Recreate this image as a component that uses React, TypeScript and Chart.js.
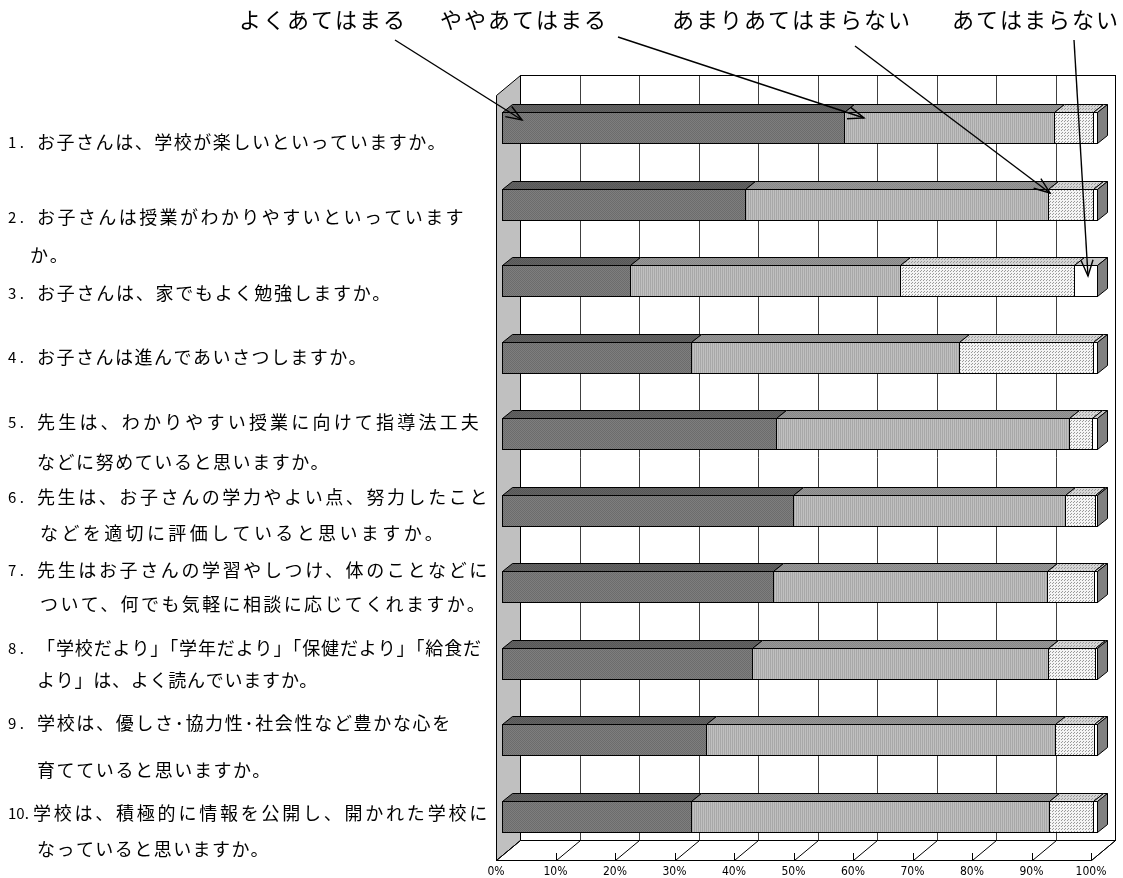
import React, { useEffect, useRef } from "react";
import { Chart, registerables } from "chart.js";

Chart.register(...registerables);

// ---------- data ----------
const categories = ["1", "2", "3", "4", "5", "6", "7", "8", "9", "10"];
const seriesNames = ["よくあてはまる", "ややあてはまる", "あまりあてはまらない", "あてはまらない"];
const veryTrue = [57.5, 40.8, 21.5, 31.8, 46.0, 48.9, 45.6, 42.0, 34.3, 31.8];
const fairlyTrue = [35.3, 51.0, 45.4, 45.0, 49.3, 45.8, 46.0, 49.8, 58.6, 60.2];
const notVeryTrue = [6.6, 7.5, 29.2, 22.5, 3.9, 4.9, 7.9, 7.9, 6.6, 7.4];
const notTrue = [0.6, 0.7, 3.9, 0.7, 0.8, 0.4, 0.5, 0.3, 0.5, 0.6];
const xTicks = [0, 10, 20, 30, 40, 50, 60, 70, 80, 90, 100];
const xTickLabels = ["0%", "10%", "20%", "30%", "40%", "50%", "60%", "70%", "80%", "90%", "100%"];

const questionNumbers = ["1 .", "2 .", "3 .", "4 .", "5 .", "6 .", "7 .", "8 .", "9 .", "10."];
const questionTexts = [
  ["お子さんは、学校が楽しいといっていますか。"],
  ["お子さんは授業がわかりやすいといっています", "か。"],
  ["お子さんは、家でもよく勉強しますか。"],
  ["お子さんは進んであいさつしますか。"],
  ["先生は、わかりやすい授業に向けて指導法工夫", "などに努めていると思いますか。"],
  ["先生は、お子さんの学力やよい点、努力したこと", "などを適切に評価していると思いますか。"],
  ["先生はお子さんの学習やしつけ、体のことなどに", "ついて、何でも気軽に相談に応じてくれますか。"],
  ["「学校だより」「学年だより」「保健だより」「給食だ", "より」は、よく読んでいますか。"],
  ["学校は、優しさ･協力性･社会性など豊かな心を", "育てていると思いますか。"],
  ["学校は、積極的に情報を公開し、開かれた学校に", "なっていると思いますか。"],
];

// ---------- layout (not data) ----------
const questionLineY = [[142], [217, 255], [293], [357], [422, 462], [497, 533], [570, 604], [648, 680], [723, 770], [813, 849]];
const questionLineX = [[37], [37, 30], [37], [37], [37, 37], [37, 40], [37, 40], [37, 37], [37, 37], [33, 37]];
const questionLineEnd = [[447], [466, 0], [392], [368], [482, 330], [490, 446], [490, 487], [482, 318], [452, 272], [490, 270]];
const legendX = [239, 440, 672, 952];
const legendY = 20;
const arrows = [
  [395, 40, 522, 120],
  [618, 37, 864, 118],
  [855, 46, 1050, 193],
  [1074, 40, 1088, 276],
];

const FLOOR_DX = 24;
const FLOOR_DY = -20;
const BAR_FX = 6;
const BAR_FY = -5.5;
const BAR_DX = 10;
const BAR_DY = -8;

const CJK = "'Noto Sans CJK JP', 'Noto Sans', sans-serif";

function makePattern(base: string, dot: string, size: number, pts: number[][]) {
  const c = document.createElement("canvas");
  c.width = size;
  c.height = size;
  const g = c.getContext("2d")!;
  g.fillStyle = base;
  g.fillRect(0, 0, size, size);
  g.fillStyle = dot;
  for (const [x, y] of pts) g.fillRect(x, y, 1, 1);
  return g.createPattern(c, "repeat")!;
}

function arrow(ctx: CanvasRenderingContext2D, x1: number, y1: number, x2: number, y2: number) {
  ctx.save();
  ctx.strokeStyle = "#000";
  ctx.lineWidth = 1.4;
  ctx.beginPath();
  ctx.moveTo(x1, y1);
  ctx.lineTo(x2, y2);
  ctx.stroke();
  const a = Math.atan2(y2 - y1, x2 - x1);
  const L = 17;
  const w = 0.36;
  ctx.beginPath();
  ctx.moveTo(x2 - L * Math.cos(a - w), y2 - L * Math.sin(a - w));
  ctx.lineTo(x2, y2);
  ctx.lineTo(x2 - L * Math.cos(a + w), y2 - L * Math.sin(a + w));
  ctx.stroke();
  ctx.restore();
}

function fitText(ctx: CanvasRenderingContext2D, text: string, x: number, y: number, endX: number) {
  const c = ctx as any;
  c.letterSpacing = "0px";
  const w = ctx.measureText(text).width;
  const n = Array.from(text).length;
  let sp = endX > 0 ? (endX - x - w) / n : 2;
  sp = Math.max(-1, Math.min(6, sp));
  c.letterSpacing = `${sp.toFixed(2)}px`;
  ctx.fillText(text, x, y);
  c.letterSpacing = "0px";
}

export default function App() {
  const ref = useRef<HTMLCanvasElement | null>(null);

  useEffect(() => {
    const canvas = ref.current!;

    const frontFill = [
      makePattern("#7e7e7e", "#6c6c6c", 2, [[0, 0], [1, 1]]),
      makePattern("#c0c0c0", "#a8a8a8", 2, [[0, 0], [0, 1]]),
      makePattern("#f4f4f4", "#9a9a9a", 3, [[0, 0], [2, 1]]),
      "#ffffff",
    ];
    const topFill = [
      makePattern("#636363", "#575757", 2, [[0, 0], [1, 1]]),
      makePattern("#969696", "#888888", 2, [[0, 0], [1, 1]]),
      makePattern("#d6d6d6", "#9a9a9a", 3, [[0, 0], [2, 1]]),
      "#c8c8c8",
    ];
    const endFill = "#808080";

    const wallsPlugin = {
      id: "walls3d",
      beforeDatasetsDraw(chart: any) {
        const ctx: CanvasRenderingContext2D = chart.ctx;
        const { left, right, top, bottom } = chart.chartArea;
        const xs = chart.scales.x;
        ctx.save();
        ctx.lineWidth = 1;
        // back wall
        ctx.fillStyle = "#ffffff";
        ctx.fillRect(left + FLOOR_DX, top + FLOOR_DY, right - left, bottom - top);
        // back gridlines
        ctx.strokeStyle = "#404040";
        for (const v of xTicks) {
          const x = Math.round(xs.getPixelForValue(v) + FLOOR_DX) + 0.5;
          ctx.beginPath();
          ctx.moveTo(x, top + FLOOR_DY);
          ctx.lineTo(x, bottom + FLOOR_DY);
          ctx.stroke();
        }
        ctx.strokeStyle = "#000";
        ctx.strokeRect(Math.round(left + FLOOR_DX) + 0.5, top + FLOOR_DY + 0.5, right - left, bottom - top);
        // left side wall
        ctx.fillStyle = "#c0c0c0";
        ctx.beginPath();
        ctx.moveTo(left + 0.5, top + 0.5);
        ctx.lineTo(left + FLOOR_DX + 0.5, top + FLOOR_DY + 0.5);
        ctx.lineTo(left + FLOOR_DX + 0.5, bottom + FLOOR_DY + 0.5);
        ctx.lineTo(left + 0.5, bottom + 0.5);
        ctx.closePath();
        ctx.fill();
        ctx.stroke();
        // floor
        ctx.fillStyle = "#ffffff";
        ctx.beginPath();
        ctx.moveTo(left + 0.5, bottom + 0.5);
        ctx.lineTo(right + 0.5, bottom + 0.5);
        ctx.lineTo(right + FLOOR_DX + 0.5, bottom + FLOOR_DY + 0.5);
        ctx.lineTo(left + FLOOR_DX + 0.5, bottom + FLOOR_DY + 0.5);
        ctx.closePath();
        ctx.fill();
        ctx.stroke();
        for (const v of xTicks) {
          const x = Math.round(xs.getPixelForValue(v)) + 0.5;
          ctx.beginPath();
          ctx.moveTo(x, bottom + 0.5);
          ctx.lineTo(x + FLOOR_DX, bottom + FLOOR_DY + 0.5);
          ctx.stroke();
          ctx.beginPath();
          ctx.moveTo(x, bottom + 0.5);
          ctx.lineTo(x, bottom - 7);
          ctx.stroke();
        }
        ctx.restore();
      },
      afterDatasetsDraw(chart: any) {
        const ctx: CanvasRenderingContext2D = chart.ctx;
        const n = chart.data.labels.length;
        const nd = chart.data.datasets.length;
        ctx.save();
        ctx.lineWidth = 1;
        ctx.strokeStyle = "#000";
        for (let j = 0; j < n; j++) {
          let maxR = -Infinity;
          let rt = 0;
          let rb = 0;
          for (let d = 0; d < nd; d++) {
            const el = chart.getDatasetMeta(d).data[j];
            const p = el.getProps(["x", "y", "base", "height"], true);
            const l = Math.round(Math.min(p.x, p.base) + BAR_FX) + 0.5;
            const r = Math.round(Math.max(p.x, p.base) + BAR_FX) + 0.5;
            const t = Math.round(p.y - p.height / 2 + BAR_FY) + 0.5;
            const b = Math.round(p.y + p.height / 2 + BAR_FY) + 0.5;
            rt = t;
            rb = b;
            if (r > maxR) maxR = r;
            if (r - l < 0.5) continue;
            // top face
            ctx.fillStyle = topFill[d] as any;
            ctx.beginPath();
            ctx.moveTo(l, t);
            ctx.lineTo(r, t);
            ctx.lineTo(r + BAR_DX, t + BAR_DY);
            ctx.lineTo(l + BAR_DX, t + BAR_DY);
            ctx.closePath();
            ctx.fill();
            ctx.stroke();
            // front face
            ctx.fillStyle = frontFill[d] as any;
            ctx.fillRect(l, t, r - l, b - t);
            ctx.strokeRect(l, t, r - l, b - t);
          }
          // end face
          ctx.fillStyle = endFill;
          ctx.beginPath();
          ctx.moveTo(maxR, rt);
          ctx.lineTo(maxR + BAR_DX, rt + BAR_DY);
          ctx.lineTo(maxR + BAR_DX, rb + BAR_DY);
          ctx.lineTo(maxR, rb);
          ctx.closePath();
          ctx.fill();
          ctx.stroke();
        }
        ctx.restore();
      },
      afterDraw(chart: any) {
        const ctx: CanvasRenderingContext2D = chart.ctx;
        ctx.save();
        ctx.fillStyle = "#000";
        ctx.textBaseline = "middle";
        ctx.textAlign = "left";
        // legend labels
        ctx.font = `22px ${CJK}`;
        (ctx as any).letterSpacing = "2px";
        seriesNames.forEach((s, i) => ctx.fillText(s, legendX[i], legendY));
        (ctx as any).letterSpacing = "0px";
        // question labels
        questionTexts.forEach((lines, i) => {
          const ys = questionLineY[i];
          ctx.font = `15px ${CJK}`;
          ctx.fillText(questionNumbers[i], 8, ys[0]);
          ctx.font = `18px ${CJK}`;
          lines.forEach((ln, k) => {
            fitText(ctx, ln, questionLineX[i][k], ys[k], questionLineEnd[i][k]);
          });
        });
        ctx.restore();
        for (const a of arrows) arrow(ctx, a[0], a[1], a[2], a[3]);
      },
    };

    const chart = new Chart(canvas, {
      type: "bar",
      data: {
        labels: categories,
        datasets: [veryTrue, fairlyTrue, notVeryTrue, notTrue].map((d, i) => ({
          label: seriesNames[i],
          data: d,
          backgroundColor: "rgba(0,0,0,0)",
          borderWidth: 0,
          barPercentage: 0.405,
          categoryPercentage: 1,
        })),
      },
      options: {
        indexAxis: "y",
        responsive: false,
        animation: false,
        devicePixelRatio: 1,
        layout: { padding: { left: 496, right: 32, top: 95, bottom: 0 } },
        plugins: { legend: { display: false }, tooltip: { enabled: false } },
        scales: {
          x: {
            stacked: true,
            min: 0,
            max: 100,
            grid: { display: false, drawTicks: false },
            border: { display: false },
            afterBuildTicks: (s: any) => {
              s.ticks = xTicks.map((v) => ({ value: v }));
            },
            afterFit: (s: any) => {
              s.height = 18;
            },
            ticks: {
              autoSkip: false,
              maxRotation: 0,
              padding: 5,
              color: "#000",
              font: { family: "'Liberation Sans Narrow', 'DejaVu Sans Condensed', 'Liberation Sans', sans-serif", size: 12 },
              callback: (v: any) => xTickLabels[xTicks.indexOf(Number(v))] ?? "",
            },
          },
          y: { stacked: true, display: false },
        },
      } as any,
      plugins: [wallsPlugin],
    });
    return () => chart.destroy();
  }, []);

  return (
    <div style={{ position: "absolute", left: 0, top: 0, width: 1123, height: 878, background: "#fff" }}>
      <canvas ref={ref} width={1123} height={878} style={{ display: "block" }} />
    </div>
  );
}
